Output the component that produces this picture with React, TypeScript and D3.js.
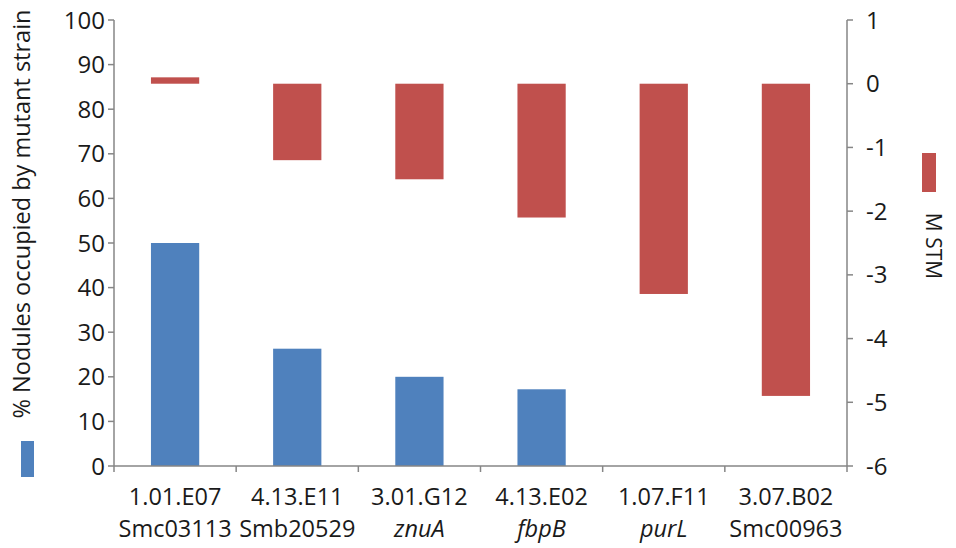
import React from "react";
import * as d3 from "d3";

// Mutant strains (STM identifiers) and their gene names
const categories = ["1.01.E07", "4.13.E11", "3.01.G12", "4.13.E02", "1.07.F11", "3.07.B02"];
const geneNames = ["Smc03113", "Smb20529", "znuA", "fbpB", "purL", "Smc00963"];
const geneItalic = [false, false, true, true, true, false];

// % nodules occupied by the mutant strain (left axis); null = not measured
const nodulePct: (number | null)[] = [50, 26.3, 20, 17.2, null, null];
// M value from the STM screen (right axis)
const mStm = [0.1, -1.2, -1.5, -2.1, -3.3, -4.9];

const leftTicks = [0, 10, 20, 30, 40, 50, 60, 70, 80, 90, 100];
const rightTicks = [1, 0, -1, -2, -3, -4, -5, -6];

const W = 956;
const H = 548;
const X0 = 114;
const X1 = 847;
const Y0 = 466;
const Y1 = 20;

const BLUE = "#4f81bd";
const RED = "#c0504d";
const AXIS = "#868686";
const TEXT = "#1a1a1a";
const FONT = "'Open Sans', 'Noto Sans', sans-serif";

export default function App() {
  const x = d3.scaleBand<string>().domain(categories).range([X0, X1]).padding(0);
  const yL = d3.scaleLinear().domain([0, 100]).range([Y0, Y1]);
  const yR = d3.scaleLinear().domain([-6, 1]).range([Y0, Y1]);
  const barW = x.bandwidth() * 0.395;
  const boundaries = categories.map((c) => x(c) as number).concat([X1]);

  return (
    <svg
      width={W}
      height={H}
      viewBox={`0 0 ${W} ${H}`}
      style={{ position: "absolute", left: 0, top: 0, background: "#fff" }}
      fontFamily={FONT}
    >
      <rect width={W} height={H} fill="#fff" />

      {/* blue bars: nodule occupancy */}
      {categories.map((c, i) => {
        const v = nodulePct[i];
        if (v == null) return null;
        const cx = (x(c) as number) + x.bandwidth() / 2;
        return (
          <rect
            key={"b" + c}
            x={cx - barW / 2}
            y={yL(v)}
            width={barW}
            height={yL(0) - yL(v)}
            fill={BLUE}
          />
        );
      })}

      {/* red bars: M STM, drawn from zero on the right axis */}
      {categories.map((c, i) => {
        const v = mStm[i];
        const cx = (x(c) as number) + x.bandwidth() / 2;
        const top = Math.min(yR(v), yR(0));
        const h = Math.abs(yR(v) - yR(0));
        return <rect key={"r" + c} x={cx - barW / 2} y={top} width={barW} height={h} fill={RED} />;
      })}

      {/* left axis */}
      <line x1={X0} x2={X0} y1={Y1} y2={Y0} stroke={AXIS} strokeWidth={1.5} />
      {leftTicks.map((t) => (
        <g key={"lt" + t}>
          <line x1={X0 - 6} x2={X0} y1={yL(t)} y2={yL(t)} stroke={AXIS} strokeWidth={1.5} />
          <text x={105} y={yL(t)} dy="0.36em" textAnchor="end" fontSize={24} fill={TEXT}>
            {t}
          </text>
        </g>
      ))}

      {/* right axis */}
      <line x1={X1} x2={X1} y1={Y1} y2={Y0} stroke={AXIS} strokeWidth={1.5} />
      {rightTicks.map((t) => (
        <g key={"rt" + t}>
          <line x1={X1} x2={X1 + 6} y1={yR(t)} y2={yR(t)} stroke={AXIS} strokeWidth={1.5} />
          <text x={866} y={yR(t)} dy="0.36em" textAnchor="start" fontSize={24} fill={TEXT}>
            {t}
          </text>
        </g>
      ))}

      {/* category axis */}
      <line x1={X0} x2={X1} y1={Y0} y2={Y0} stroke={AXIS} strokeWidth={1.5} />
      {boundaries.map((bx, i) => (
        <line key={"bt" + i} x1={bx} x2={bx} y1={Y0} y2={Y0 + 6} stroke={AXIS} strokeWidth={1.5} />
      ))}
      {categories.map((c, i) => {
        const cx = (x(c) as number) + x.bandwidth() / 2;
        return (
          <g key={"cl" + c}>
            <text x={cx} y={505} textAnchor="middle" fontSize={23.5} fill={TEXT}>
              {c}
            </text>
            <text
              x={cx}
              y={537}
              textAnchor="middle"
              fontSize={23.5}
              fill={TEXT}
              fontStyle={geneItalic[i] ? "italic" : "normal"}
            >
              {geneNames[i]}
            </text>
          </g>
        );
      })}

      {/* left axis title with its legend key */}
      <text
        transform="translate(30,214) rotate(-90)"
        textAnchor="middle"
        fontSize={23.5}
        fill={TEXT}
      >
        % Nodules occupied by mutant strain
      </text>
      <rect x={21} y={441} width={13} height={36} fill={BLUE} />

      {/* right legend */}
      <rect x={922} y={153} width={14} height={39} fill={RED} />
      <text
        transform="translate(926,246) rotate(90)"
        textAnchor="middle"
        fontSize={21}
        fill={TEXT}
      >
        M STM
      </text>
    </svg>
  );
}
